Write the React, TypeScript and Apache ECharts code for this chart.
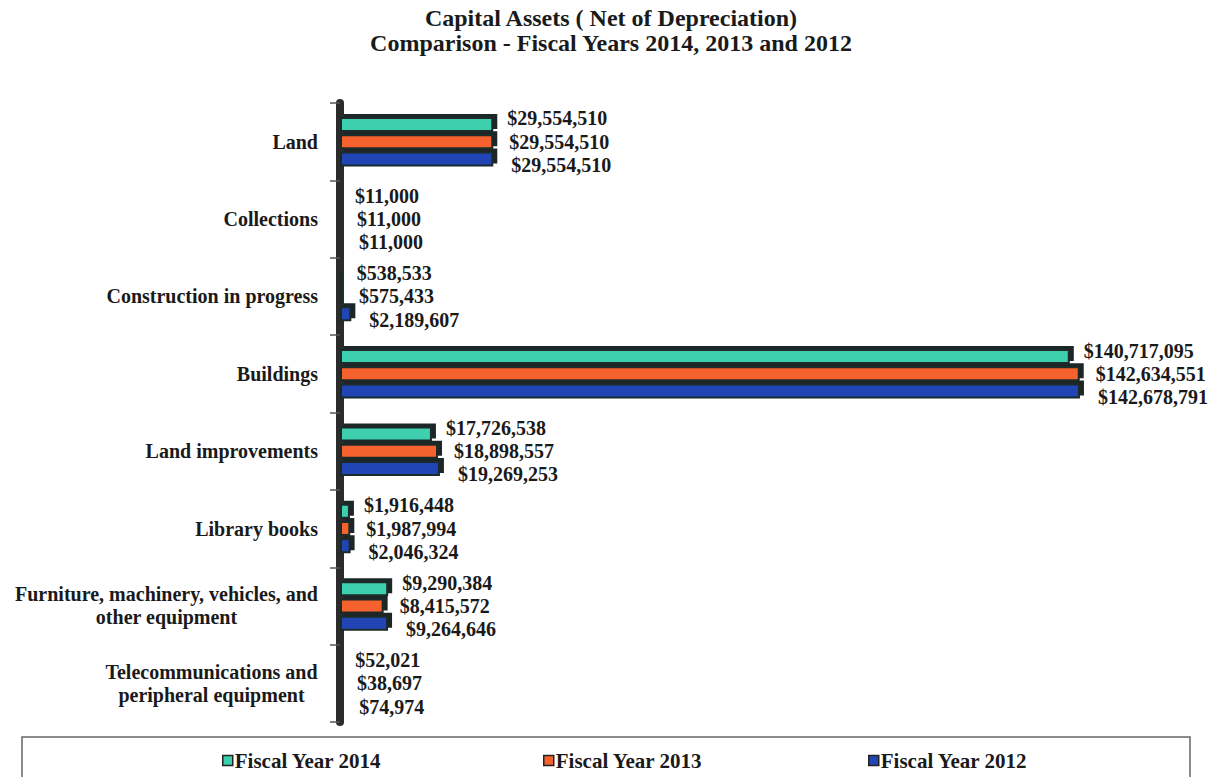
import React, { useEffect, useRef } from "react";
import * as echarts from "echarts";

const categories = [
  "Land",
  "Collections",
  "Construction in progress",
  "Buildings",
  "Land improvements",
  "Library books",
  "Furniture, machinery, vehicles, and\nother equipment",
  "Telecommunications and\nperipheral equipment",
];
const seriesNames = ["Fiscal Year 2014", "Fiscal Year 2013", "Fiscal Year 2012"];
const fy2014 = [29554510, 11000, 538533, 140717095, 17726538, 1916448, 9290384, 52021];
const fy2013 = [29554510, 11000, 575433, 142634551, 18898557, 1987994, 8415572, 38697];
const fy2012 = [29554510, 11000, 2189607, 142678791, 19269253, 2046324, 9264646, 74974];
const titleLines = [
  "Capital Assets ( Net of Depreciation)",
  "Comparison - Fiscal Years 2014, 2013 and 2012",
];

const colors = ["#3ccfae", "#f5622e", "#2245b5"];
const FONT = "Liberation Serif";
const CAT_FONT = `bold 20px "${FONT}"`;

const fmt = (v: number) => "$" + v.toLocaleString("en-US");

function measure(text: string): number {
  const c = document.createElement("canvas").getContext("2d")!;
  c.font = CAT_FONT;
  return Math.ceil(Math.max(...text.split("\n").map((l) => c.measureText(l).width)));
}

export default function App() {
  const ref = useRef<HTMLDivElement>(null);
  useEffect(() => {
    document.body.style.margin = "0";
    const chart = echarts.init(ref.current!, undefined, { renderer: "svg" });
    const datas = [fy2014, fy2013, fy2012];
    const legendLefts = [217, 538, 863];
    const labelOffsets = [
      [0, -6],
      [2, 0],
      [4, 6],
    ];
    const multi = categories.filter((c) => c.indexOf("\n") >= 0);
    const rich: Record<string, any> = {};
    multi.forEach((c, i) => {
      rich["m" + i] = {
        fontFamily: FONT,
        fontSize: 20,
        fontWeight: "bold",
        color: "#1a1a1a",
        width: measure(c),
        align: "center",
        lineHeight: 23,
      };
    });
    chart.setOption({
      animation: false,
      backgroundColor: "#ffffff",
      title: {
        text: titleLines.join("\n"),
        left: 606,
        top: 0,
        textAlign: "center",
        textStyle: {
          fontFamily: FONT,
          fontWeight: "bold",
          fontSize: 24,
          lineHeight: 25,
          color: "#1a1a1a",
        },
      },
      legend: seriesNames.map((n, i) => ({
        data: [n],
        left: legendLefts[i],
        top: 745,
        icon: "rect",
        itemWidth: 10,
        itemHeight: 10,
        itemGap: 4,
        textStyle: {
          fontFamily: FONT,
          fontSize: 21,
          fontWeight: "bold",
          color: "#1a1a1a",
          padding: [0, 0, 0, -3],
        },
        itemStyle: { borderColor: "#222", borderWidth: 1.5 },
      })),
      graphic: [
        {
          type: "rect",
          shape: { x: 22, y: 737, width: 1168, height: 60 },
          style: { fill: "none", stroke: "#666", lineWidth: 1.5 },
          silent: true,
        },
      ],
      grid: { left: 340, top: 103, width: 752, height: 619 },
      xAxis: {
        type: "value",
        min: 0,
        max: 145000000,
        show: false,
      },
      yAxis: {
        type: "category",
        data: categories,
        inverse: true,
        axisLine: { show: true, lineStyle: { color: "#2b2b2b", width: 8 } },
        axisTick: { show: true, length: 10, lineStyle: { color: "#555", width: 1.5 } },
        axisLabel: {
          margin: 22,
          fontFamily: FONT,
          fontSize: 20,
          fontWeight: "bold",
          color: "#1a1a1a",
          lineHeight: 23,
          formatter: (v: string) => {
            const idx = multi.indexOf(v);
            if (idx < 0) return v;
            return v
              .split("\n")
              .map((l) => `{m${idx}|${l}}`)
              .join("\n");
          },
          rich,
        },
      },
      series: seriesNames.map((n, i) => ({
        name: n,
        type: "bar",
        data: datas[i],
        barWidth: 15,
        barGap: "15%",
        itemStyle: {
          color: colors[i],
          borderColor: "#1d2a2a",
          borderWidth: 2,
          shadowColor: "#1e2626",
          shadowOffsetX: 4,
          shadowOffsetY: -3,
          shadowBlur: 0,
        },
        label: {
          show: true,
          position: "right",
          distance: 14,
          offset: labelOffsets[i],
          formatter: (p: any) => fmt(p.value),
          fontFamily: FONT,
          fontSize: 20,
          fontWeight: "bold",
          color: "#1a1a1a",
        },
      })),
    });
    return () => chart.dispose();
  }, []);
  return <div ref={ref} style={{ width: 1212, height: 777 }} />;
}
